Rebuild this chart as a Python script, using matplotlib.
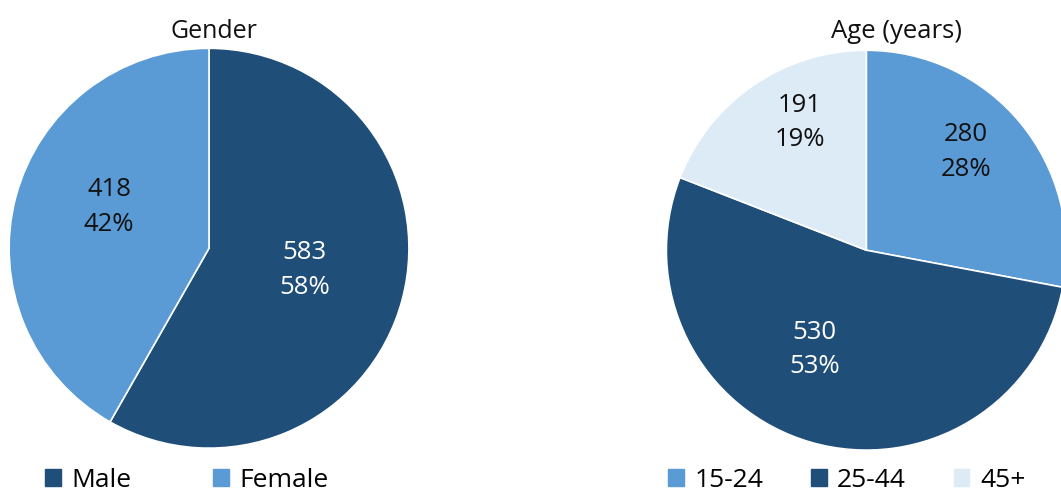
import numpy as np
import matplotlib
matplotlib.use('Agg')
import matplotlib.pyplot as plt
from matplotlib.patches import Patch

plt.rcParams['font.family'] = ['Open Sans', 'DejaVu Sans']

gender_labels = ['Male', 'Female']
gender_counts = [583, 418]
gender_pct = [58, 42]

age_labels = ['15-24', '25-44', '45+']
age_counts = [280, 530, 191]
age_pct = [28, 53, 19]

dark = '#1F4E79'
mid = '#5B9BD5'
light = '#DDEBF7'

gender_colors = [dark, mid]
age_colors = [mid, dark, light]

# label placement: fraction of radius, and angle nudge in degrees
gender_lr = [0.49, 0.54]
gender_da = [2, -7.5]
age_lr = [0.70, 0.56, 0.72]
age_da = [4.8, -11.6, -6.8]
gender_tc = ['white', '#111111']
age_tc = ['#111111', 'white', '#111111']

fig = plt.figure(figsize=(10.61, 4.93), dpi=100)


def draw_pie(rect, counts, pct, colors, lr, da, tcol):
    ax = fig.add_axes(rect)
    wedges, _ = ax.pie(counts, colors=colors, startangle=90, counterclock=False,
                       wedgeprops=dict(edgecolor='white', linewidth=1.2))
    for w, c, p, r, d, tc in zip(wedges, counts, pct, lr, da, tcol):
        ang = np.deg2rad((w.theta1 + w.theta2) / 2 + d)
        ax.text(r * np.cos(ang), r * np.sin(ang), '%d\n%d%%' % (c, p),
                ha='center', va='center', fontsize=18.5, color=tc, linespacing=1.5)
    ax.set_xlim(-1, 1)
    ax.set_ylim(-1, 1)
    ax.set_aspect('equal')
    for w in wedges:
        w.set_clip_on(False)
    return ax


draw_pie([0.0085, 0.091, 0.377, 0.811], gender_counts, gender_pct, gender_colors,
         gender_lr, gender_da, gender_tc)
draw_pie([0.628, 0.087, 0.377, 0.811], age_counts, age_pct, age_colors,
         age_lr, age_da, age_tc)

fig.text(0.202, 0.937, 'Gender', ha='center', va='center', fontsize=18, color='#111111')
fig.text(0.845, 0.937, 'Age (years)', ha='center', va='center', fontsize=18.5, color='#111111')

h1 = [Patch(color=c, label=l) for c, l in zip(gender_colors, gender_labels)]
fig.legend(handles=h1, loc='center left', bbox_to_anchor=(0.0424, 0.026), ncol=2,
           frameon=False, fontsize=19, handlelength=0.6, handleheight=0.6,
           handletextpad=0.4, columnspacing=3.1, borderaxespad=0, borderpad=0)

h2 = [Patch(color=c, label=l) for c, l in zip(age_colors, age_labels)]
fig.legend(handles=h2, loc='center left', bbox_to_anchor=(0.6296, 0.026), ncol=3,
           frameon=False, fontsize=19, handlelength=0.6, handleheight=0.6,
           handletextpad=0.4, columnspacing=1.8, borderaxespad=0, borderpad=0)

fig.savefig('out.png', dpi=100)
